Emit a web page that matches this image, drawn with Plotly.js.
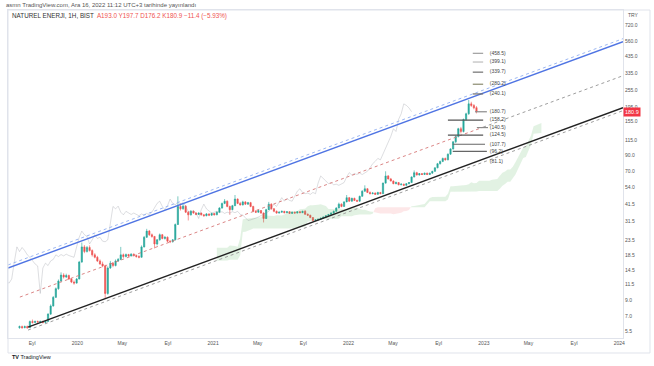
<!DOCTYPE html>
<html><head><meta charset="utf-8">
<script src="https://cdn.plot.ly/plotly-3.0.1.min.js"></script>
<style>html,body{margin:0;padding:0;background:#fff}#chart{width:654px;height:366px}</style>
</head><body><div id="chart"></div>
<script>
// ---- data (weekly candles, NATUREL ENERJI, BIST) ----
const firstWeek = [2019, 6, 29]; // Monday 2019-07-29
const opens = [
5.8,5.9,5.8,5.9,5.8,6.4,6.3,6.4,6.35,6.4,
6.3,6.4,7.2,8.2,9.4,10.8,12.2,13.4,13.0,13.3,
12.6,12.0,11.8,12.6,16.5,21.0,19.5,20.8,19.8,18.5,
17.8,16.8,16.0,15.5,10.0,15.0,16.2,15.6,16.8,17.2,
18.5,18.0,18.6,18.2,18.7,18.3,18.0,17.8,21.0,24.5,
27.0,25.5,24.8,22.0,23.5,25.5,24.0,24.5,23.0,22.8,
23.5,30.0,40.0,38.5,40.2,36.5,35.0,37.0,36.0,35.2,
36.0,35.0,34.5,35.5,34.8,35.8,35.0,36.5,39.0,42.0,
43.5,40.0,38.0,40.5,45.0,42.0,41.0,43.0,41.5,42.5,
40.0,37.0,36.5,37.5,36.0,33.0,38.0,41.5,38.5,37.0,
36.0,36.5,37.0,36.2,36.8,35.8,36.5,36.0,36.8,36.2,
37.0,35.3,34.8,33.5,32.0,32.3,32.6,33.2,33.8,34.5,
35.2,36.0,37.0,39.0,41.5,40.0,43.0,46.0,43.5,45.5,
44.0,43.5,47.0,51.0,53.0,50.0,49.0,49.5,48.5,50.0,
49.0,58.0,65.0,62.0,60.0,57.5,58.5,56.5,57.0,56.0,
57.5,58.5,64.0,68.5,66.0,67.5,66.5,68.0,66.5,68.0,
70.0,74.0,79.0,82.0,86.0,84.0,92.0,100.0,112.0,122.0,
138.0,132.0,160.0,175.0,205.0,200.0,193.0];
const highs = [
6.0,6.0,6.0,6.0,6.5,6.6,6.5,6.5,6.5,6.5,
6.5,7.3,8.4,9.6,11.0,12.5,14.0,13.8,13.7,13.5,
12.8,12.3,12.8,16.8,22.5,21.6,21.3,21.5,20.2,19.0,
18.2,17.2,16.6,15.8,15.4,16.8,16.5,17.2,17.6,21.0,
18.9,18.9,18.8,19.0,18.9,18.6,18.4,21.5,25.0,28.0,
27.5,26.0,25.0,23.8,26.0,25.8,25.0,24.8,23.4,23.8,
30.5,47.0,42.0,41.5,40.8,37.2,37.8,37.5,36.5,36.5,
36.3,35.4,36.0,35.8,36.2,36.0,37.0,39.5,42.5,45.0,
44.0,40.5,41.0,48.0,45.5,43.0,43.8,43.5,43.0,43.0,
40.4,37.8,38.0,37.8,36.4,38.5,43.0,42.0,39.0,37.5,
37.0,37.4,37.3,37.0,37.0,36.8,36.8,37.0,37.2,37.4,
37.8,35.8,35.0,33.8,32.6,33.0,33.4,34.0,34.8,35.5,
36.5,37.5,39.5,42.5,42.0,43.5,48.0,46.5,46.0,46.0,
44.6,47.5,51.8,56.0,53.5,50.8,50.2,50.0,50.5,50.4,
58.5,70.0,66.0,63.0,60.5,59.5,59.0,58.0,57.5,58.0,
59.0,64.5,71.0,69.5,68.0,68.0,68.6,68.5,68.5,70.5,
74.5,80.0,83.0,87.0,87.0,93.0,101.0,113.0,124.0,140.0,
142.0,162.0,178.0,218.0,212.0,204.0,197.7];
const lows = [
5.7,5.7,5.75,5.7,5.8,6.2,6.25,6.3,6.3,6.2,
6.25,6.4,7.1,8.1,9.3,10.6,12.0,12.7,12.8,12.4,
11.8,11.5,11.7,12.5,16.3,19.0,19.2,19.5,18.0,17.5,
16.5,15.8,15.2,9.3,9.8,14.8,15.2,15.4,16.5,17.0,
17.6,17.8,17.9,18.0,18.0,17.7,17.5,17.7,20.8,24.2,
25.0,24.3,20.5,21.5,23.2,23.7,23.6,22.6,22.3,22.5,
23.3,29.8,37.5,38.0,36.0,32.0,34.6,35.6,34.8,35.0,
34.6,34.0,34.2,34.3,34.6,34.6,34.8,36.2,38.6,41.5,
39.5,35.0,37.6,40.2,41.5,40.5,40.6,41.0,41.0,39.5,
36.5,36.0,36.2,35.6,31.0,32.8,37.8,38.0,36.5,35.6,
35.7,36.2,35.8,36.0,35.5,35.6,35.7,35.8,36.0,36.0,
35.0,34.5,33.2,31.4,31.7,32.0,32.4,32.8,33.4,34.0,
35.0,35.6,36.8,38.8,39.5,39.8,42.8,43.0,43.2,43.6,
43.0,43.2,46.8,50.5,49.5,48.5,48.6,48.0,48.2,48.6,
48.8,57.5,61.5,59.5,57.0,57.0,56.0,56.0,55.5,55.8,
57.0,58.2,63.5,65.5,65.5,66.0,66.0,66.0,66.0,67.5,
69.5,73.5,78.0,81.0,83.0,83.5,91.0,99.0,110.0,120.0,
128.0,130.0,157.0,172.0,195.0,188.0,176.2];
const closes = [
5.9,5.8,5.9,5.8,6.4,6.3,6.4,6.35,6.4,6.3,
6.4,7.2,8.2,9.4,10.8,12.2,13.4,13.0,13.3,12.6,
12.0,11.8,12.6,16.5,21.0,19.5,20.8,19.8,18.5,17.8,
16.8,16.0,15.5,10.0,15.0,16.2,15.6,16.8,17.2,18.5,
18.0,18.6,18.2,18.7,18.3,18.0,17.8,21.0,24.5,27.0,
25.5,24.8,22.0,23.5,25.5,24.0,24.5,23.0,22.8,23.5,
30.0,40.0,38.5,40.2,36.5,35.0,37.0,36.0,35.2,36.0,
35.0,34.5,35.5,34.8,35.8,35.0,36.5,39.0,42.0,43.5,
40.0,38.0,40.5,45.0,42.0,41.0,43.0,41.5,42.5,40.0,
37.0,36.5,37.5,36.0,33.0,38.0,41.5,38.5,37.0,36.0,
36.5,37.0,36.2,36.8,35.8,36.5,36.0,36.8,36.2,37.0,
35.3,34.8,33.5,32.0,32.3,32.6,33.2,33.8,34.5,35.2,
36.0,37.0,39.0,41.5,40.0,43.0,46.0,43.5,45.5,44.0,
43.5,47.0,51.0,53.0,50.0,49.0,49.5,48.5,50.0,49.0,
58.0,65.0,62.0,60.0,57.5,58.5,56.5,57.0,56.0,57.5,
58.5,64.0,68.5,66.0,67.5,66.5,68.0,66.5,68.0,70.0,
74.0,79.0,82.0,86.0,84.0,92.0,100.0,112.0,122.0,138.0,
132.0,160.0,175.0,205.0,200.0,192.3,180.9];

// trend channel drawn on the chart (dates, values)
const upperDates = ['2019-06-28', '2024-01-11'];
const upperVals = [15.0, 552];
const upperDashVals = [15.75, 579];
const lowerDates = ['2019-08-21', '2024-01-11'];
const lowerVals = [5.85, 193];
const lowerDashVals = [5.58, 184];
const midRedDates = ['2019-07-30', '2022-12-30'];
const midRedVals = [9.44, 141.4];
const midGreyDates = ['2022-12-30', '2024-01-11'];
const midGreyVals = [141.4, 321];

// fibonacci-type levels
const fibLevels = [458.5, 399.1, 339.7, 280.2, 240.1, 180.7, 158.2, 140.5, 124.5, 107.7, 96.2, 81.1];
const fibStart = ['2022-12-02','2022-12-02','2022-12-02','2022-12-02','2022-12-02','2022-12-08','2022-09-26','2022-12-13','2022-09-26','2022-10-09','2022-10-09', null];
const fibEnd   = ['2022-12-30','2022-12-30','2022-12-30','2022-12-30','2022-12-30','2023-01-09','2022-12-30','2023-01-12','2022-12-30','2023-01-04','2023-01-09', null];
const fibColors = ['#9e9e9e','#bdbdbd','#6f6f6f','#8a8a6e','#6f6f6f','#8a8a8a','#555555','#8a8a8a','#555555','#666666','#666666','#888888'];
const fibLabelDate = '2023-01-17';

// axis ticks
const xTickVals = ['2019-09-01','2020-01-01','2020-05-01','2020-09-01','2021-01-01','2021-05-01','2021-09-01','2022-01-01','2022-05-01','2022-09-01','2023-01-01','2023-05-01','2023-09-01','2024-01-01'];
const xTickText = ['Eyl','2020','May','Eyl','2021','May','Eyl','2022','May','Eyl','2023','May','Eyl','2024'];
const yTickVals = [720, 560, 435, 335, 255, 195, 155, 115, 90, 70, 54, 41.5, 31.5, 23.5, 18.5, 14.5, 11.5, 9, 7, 5.5];

// ---- build ----
const N = closes.length;
const base = Date.UTC(firstWeek[0], firstWeek[1], firstWeek[2]);
function weekDate(i) {
  const d = new Date(base + i * 7 * 86400000);
  return d.toISOString().replace('T', ' ').slice(0, 19);
}
const dates = closes.map((_, i) => weekDate(i));

// Ichimoku (9, 26, 52, displacement 26)
function mid(i, len) {
  let hi = -Infinity, lo = Infinity;
  for (let k = Math.max(0, i - len + 1); k <= i; k++) { hi = Math.max(hi, highs[k]); lo = Math.min(lo, lows[k]); }
  return (hi + lo) / 2;
}
const spanA = [], spanB = [], spanX = [];
for (let i = 51; i < N; i++) {
  spanA.push((mid(i, 9) + mid(i, 26)) / 2);
  spanB.push(mid(i, 52));
  spanX.push(i + 25);
}
const segs = [];
let cur = null;
for (let k = 0; k < spanA.length; k++) {
  const up = spanA[k] >= spanB[k];
  if (!cur) { cur = {up, xs: [spanX[k]], a: [spanA[k]], b: [spanB[k]]}; continue; }
  if (up !== cur.up) {
    const d0 = Math.log(spanA[k-1]) - Math.log(spanB[k-1]);
    const d1 = Math.log(spanA[k]) - Math.log(spanB[k]);
    const t = d0 / (d0 - d1);
    const xc = spanX[k-1] + t;
    const vc = Math.exp(Math.log(spanA[k-1]) + t * (Math.log(spanA[k]) - Math.log(spanA[k-1])));
    cur.xs.push(xc); cur.a.push(vc); cur.b.push(vc); segs.push(cur);
    cur = {up, xs: [xc, spanX[k]], a: [vc, spanA[k]], b: [vc, spanB[k]]};
  } else { cur.xs.push(spanX[k]); cur.a.push(spanA[k]); cur.b.push(spanB[k]); }
}
if (cur) segs.push(cur);

const traces = [];
segs.forEach(s => {
  const xs = s.xs.map(weekDate);
  traces.push({type: 'scatter', mode: 'lines', x: xs, y: s.b, line: {width: 0, color: 'rgba(0,0,0,0)'}, hoverinfo: 'skip'});
  traces.push({type: 'scatter', mode: 'lines', x: xs, y: s.a, line: {width: 0, color: 'rgba(0,0,0,0)'}, fill: 'tonexty',
    fillcolor: s.up ? 'rgba(76,175,80,0.16)' : 'rgba(242,54,69,0.12)', hoverinfo: 'skip'});
});
// lagging span
traces.push({type: 'scatter', mode: 'lines', x: closes.map((_, i) => weekDate(i - 25)), y: closes,
  line: {color: 'rgba(120,123,134,0.25)', width: 1}, hoverinfo: 'skip'});
// candles
traces.push({type: 'candlestick', x: dates, open: opens, high: highs, low: lows, close: closes,
  increasing: {line: {color: '#26a69a', width: 0.6}, fillcolor: '#26a69a'},
  decreasing: {line: {color: '#ef5350', width: 0.6}, fillcolor: '#ef5350'},
  whiskerwidth: 0, hoverinfo: 'skip'});
// channel lines
traces.push({type: 'scatter', mode: 'lines', x: upperDates, y: upperDashVals, line: {color: '#9db8f3', width: 1, dash: '3px,3px'}});
traces.push({type: 'scatter', mode: 'lines', x: upperDates, y: upperVals, line: {color: '#4f74e3', width: 1.4}});
traces.push({type: 'scatter', mode: 'lines', x: lowerDates, y: lowerDashVals, line: {color: '#9e9e9e', width: 1, dash: '3px,3px'}});
traces.push({type: 'scatter', mode: 'lines', x: lowerDates, y: lowerVals, line: {color: '#222222', width: 1.4}});
traces.push({type: 'scatter', mode: 'lines', x: midRedDates, y: midRedVals, line: {color: 'rgba(214,120,120,0.9)', width: 1, dash: '3px,3px'}});
traces.push({type: 'scatter', mode: 'lines', x: midGreyDates, y: midGreyVals, line: {color: '#9e9e9e', width: 1, dash: '3px,3px'}});
// fib levels
fibLevels.forEach((v, k) => {
  if (!fibStart[k]) return;
  traces.push({type: 'scatter', mode: 'lines', x: [fibStart[k], fibEnd[k]], y: [v, v],
    line: {color: fibColors[k], width: 1.2}, hoverinfo: 'skip'});
});
traces.push({type: 'scatter', mode: 'text', x: fibLevels.map(() => fibLabelDate), y: fibLevels,
  text: fibLevels.map(v => '(' + v.toFixed(1) + ')'), textposition: 'middle right',
  textfont: {size: 5, color: '#444', family: 'Liberation Sans, Arial, sans-serif'}, hoverinfo: 'skip'});

const lastClose = closes[N - 1];
const layout = {
  width: 654, height: 366,
  margin: {l: 8, r: 31, t: 10, b: 28},
  paper_bgcolor: '#ffffff', plot_bgcolor: '#ffffff', showlegend: false,
  font: {family: 'Liberation Sans, Arial, sans-serif', size: 5, color: '#555'},
  xaxis: {type: 'date', range: ['2019-06-28', '2024-01-11'], rangeslider: {visible: false},
    showgrid: false, zeroline: false, showline: true, mirror: true, linecolor: '#e0e3eb', linewidth: 1,
    tickmode: 'array', tickvals: xTickVals, ticktext: xTickText, ticks: '',
    tickfont: {size: 5, color: '#555'}},
  yaxis: {type: 'log', side: 'right', range: [0.692, 2.961],
    showgrid: false, zeroline: false, showline: true, mirror: true, linecolor: '#e0e3eb', linewidth: 1,
    tickmode: 'array', tickvals: yTickVals, ticktext: yTickVals.map(v => v.toFixed(1)), ticks: '',
    tickfont: {size: 5, color: '#555'}},
  shapes: [
    {type: 'rect', xref: 'paper', yref: 'paper', x0: 0, x1: 1.0439, y0: -0.0457, y1: 1, line: {color: '#e0e3eb', width: 1}}
  ],
  annotations: [
    {xref: 'paper', yref: 'paper', x: -0.0065, y: 1.015, xanchor: 'left', yanchor: 'middle', showarrow: false,
      text: 'asmn TradingView.com, Ara 16, 2022 11:12 UTC+3 tarihinde yayınlandı', font: {size: 6, color: '#555'}},
    {xref: 'paper', yref: 'paper', x: 0.003, y: 0.982, xanchor: 'left', yanchor: 'middle', showarrow: false,
      text: 'NATUREL ENERJI, 1H, BIST  <span style="color:#ef5350">A193.0 Y197.7 D176.2 K180.9 −11.4 (−5.93%)</span>',
      font: {size: 6.3, color: '#333'}},
    {xref: 'paper', yref: 'paper', x: 1, xshift: 3, y: 0.985, xanchor: 'left', yanchor: 'middle', showarrow: false,
      text: 'TRY', font: {size: 5, color: '#555'}},
    {xref: 'paper', yref: 'y', x: 1, y: Math.log10(lastClose), xanchor: 'left', yanchor: 'middle', showarrow: false,
      text: lastClose.toFixed(1), bgcolor: '#f23645', borderpad: 1, font: {size: 5.5, color: '#ffffff'}},
    {xref: 'paper', yref: 'paper', x: 0.003, y: -0.058, xanchor: 'left', yanchor: 'middle', showarrow: false,
      text: '<b>TV</b> TradingView', font: {size: 5.5, color: '#131722'}}
  ]
};
Plotly.newPlot('chart', traces, layout, {displayModeBar: false, staticPlot: true});
</script>
</body></html>
